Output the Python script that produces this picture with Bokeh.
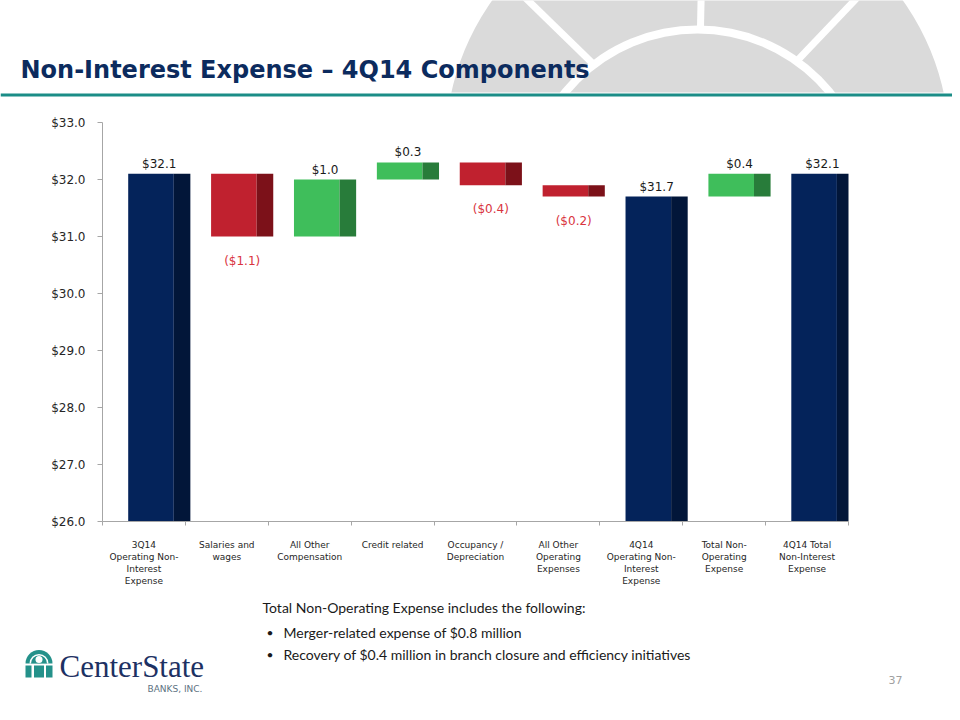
import numpy as np
from bokeh.plotting import figure
from bokeh.models import Range1d, FixedTicker, NumeralTickFormatter, ColumnDataSource
from bokeh.embed import file_html
from bokeh.resources import INLINE
from bokeh.core.properties import value

# ---------------- data ----------------
categories = [
    "3Q14\nOperating Non-\nInterest\nExpense",
    "Salaries and\nwages",
    "All Other\nCompensation",
    "Credit related",
    "Occupancy /\nDepreciation",
    "All Other\nOperating\nExpenses",
    "4Q14\nOperating Non-\nInterest\nExpense",
    "Total Non-\nOperating\nExpense",
    "4Q14 Total\nNon-Interest\nExpense",
]
amounts = [32.1, -1.1, 1.0, 0.3, -0.4, -0.2, 31.7, 0.4, 32.1]
is_total = [True, False, False, False, False, False, True, False, True]
y_ticks = [26.0, 27.0, 28.0, 29.0, 30.0, 31.0, 32.0, 33.0]
y_min, y_max = 26.0, 33.0

title = "Non-Interest Expense \u2013 4Q14 Components"
note_head = "Total Non-Operating Expense includes the following:"
note_items = [
    "Merger-related expense of $0.8 million",
    "Recovery of $0.4 million in branch closure and efficiency initiatives",
]
page_number = "37"

# ---------------- styles ----------------
NAVY, NAVY_SIDE = "#04235a", "#021639"
RED, RED_SIDE = "#c0212f", "#7c1119"
GREEN, GREEN_SIDE = "#3fbe5b", "#287c3a"
NEG_LABEL = "#d93440"
TEAL = "#1b8d87"
GRAY_BG = "#dadada"
LOGO = "#24918a"
FONT = value("DejaVu Sans")
FRONT_L, FRONT_R, DEPTH = 0.31, 0.86, 0.20

W = 952
HDR_H, CH_H, FT_H = 110, 490, 112
FL, FR, FT, FB = 102, 848, 122, 521   # plot frame edges on the page

# ---------------- waterfall geometry ----------------
idx, bottoms, tops, fronts, sides, labels, lcolors = [], [], [], [], [], [], []
running = 0.0
for i, (a, tot) in enumerate(zip(amounts, is_total)):
    if tot:
        b, t = y_min, a
        running = a
        fc, sc = NAVY, NAVY_SIDE
        labels.append("${:.1f}".format(a))
        lcolors.append("#1a1a1a")
    else:
        start, end = running, running + a
        running = end
        b, t = min(start, end), max(start, end)
        if a >= 0:
            fc, sc = GREEN, GREEN_SIDE
            labels.append("${:.1f}".format(a))
            lcolors.append("#1a1a1a")
        else:
            fc, sc = RED, RED_SIDE
            labels.append("(${:.1f})".format(-a))
            lcolors.append(NEG_LABEL)
    idx.append(i)
    bottoms.append(b)
    tops.append(t)
    fronts.append(fc)
    sides.append(sc)

data = dict(
    left=[i + FRONT_L for i in idx],
    right=[i + FRONT_R for i in idx],
    sleft=[i + FRONT_R for i in idx],
    sright=[i + FRONT_R + DEPTH for i in idx],
    xc=[i + (FRONT_L + FRONT_R + DEPTH) / 2 for i in idx],
    bottom=bottoms, top=tops, front=fronts, side=sides,
    label=labels, lcolor=lcolors,
)
src = ColumnDataSource(data)
is_pos = [a >= 0 or t for a, t in zip(amounts, is_total)]
pos_src = ColumnDataSource({k: [v for v, s in zip(data[k], is_pos) if s] for k in data})
neg_src = ColumnDataSource({k: [v for v, s in zip(data[k], is_pos) if not s] for k in data})


def deco_figure(y_top, height):
    f = figure(width=W, height=height, x_range=Range1d(0, W), y_range=Range1d(y_top + height, y_top),
               x_axis_type=None, y_axis_type=None, output_backend="svg", toolbar_location=None,
               min_border=0, outline_line_color=None)
    f.grid.visible = False
    return f


# ---------------- header ----------------
hdr = deco_figure(0, HDR_H)
HDR_CUT = 92
hdr.circle(x=[697], y=[146], radius=252, fill_color=GRAY_BG, line_color=None)
hdr.segment(x0=[697, 697, 697], y0=[165, 165, 165], x1=[701, 505, 873], y1=[-20, -22, -20],
            line_color="white", line_width=7)
hdr.circle(x=[697], y=[200], radius=175, fill_color="white", line_color=None)
hdr.circle(x=[697], y=[200], radius=167, fill_color=GRAY_BG, line_color=None)
hdr.quad(left=[0], right=[W], top=[HDR_CUT], bottom=[HDR_H + 5], fill_color="white", line_color=None)
hdr.quad(left=[0], right=[W], top=[93], bottom=[96], fill_color=TEAL, line_color=None)
hdr.text(x=[20], y=[69], text=[title], text_font=FONT, text_font_style="bold",
         text_font_size="24px", text_color="#0c2b5e", text_baseline="middle")

# ---------------- chart ----------------
p = figure(width=W, height=CH_H, x_range=Range1d(0, len(categories)), y_range=Range1d(y_min, y_max),
           output_backend="svg", toolbar_location=None,
           min_border_left=FL, min_border_right=W - FR, min_border_top=FT - HDR_H,
           min_border_bottom=HDR_H + CH_H - FB, outline_line_color=None)
p.grid.visible = False

p.quad(left="left", right="right", bottom="bottom", top="top", fill_color="front",
       line_color=None, source=src)
p.quad(left="sleft", right="sright", bottom="bottom", top="top", fill_color="side",
       line_color=None, source=src)

p.text(x="xc", y="top", text="label", text_color="lcolor", source=pos_src,
       text_align="center", text_baseline="bottom", y_offset=-3,
       text_font=FONT, text_font_size="12px")
p.text(x="xc", y="bottom", text="label", text_color="lcolor", source=neg_src,
       text_align="center", text_baseline="top", y_offset=17,
       text_font=FONT, text_font_size="12px")

ya = p.yaxis[0]
ya.ticker = FixedTicker(ticks=y_ticks)
ya.formatter = NumeralTickFormatter(format="$0.0")
ya.axis_line_color = "#a6a6a6"
ya.major_tick_line_color = "#a6a6a6"
ya.major_tick_out = 5
ya.major_tick_in = 0
ya.minor_tick_line_color = None
ya.major_label_standoff = 12
ya.major_label_text_font = "DejaVu Sans"
ya.major_label_text_font_size = "12px"
ya.major_label_text_color = "#262626"

xa = p.xaxis[0]
centers = [i + 0.5 for i in idx]
xa.ticker = FixedTicker(ticks=centers, minor_ticks=[float(i) for i in range(len(categories) + 1)])
xa.major_label_overrides = {c: lab for c, lab in zip(centers, categories)}
xa.axis_line_color = "#a6a6a6"
xa.major_tick_line_color = None
xa.major_tick_out = 0
xa.major_tick_in = 0
xa.minor_tick_line_color = "#a6a6a6"
xa.minor_tick_out = 4
xa.minor_tick_in = 0
xa.major_label_standoff = 14
xa.major_label_text_font = "DejaVu Sans"
xa.major_label_text_font_size = "9px"
xa.major_label_text_color = "#262626"

# ---------------- footer ----------------
ft = deco_figure(HDR_H + CH_H, FT_H)
NFONT = value("Lato")
ft.text(x=[262], y=[607], text=[note_head], text_font=NFONT, text_font_size="14px",
        text_color="#1a1a1a", text_baseline="middle")
ft.text(x=[266, 266], y=[632, 654], text=["\u2022", "\u2022"], text_font=NFONT,
        text_font_size="12px", text_color="#1a1a1a", text_baseline="middle")
ft.text(x=[283, 283], y=[632, 654], text=note_items, text_font=NFONT, text_font_size="14px",
        text_color="#1a1a1a", text_baseline="middle")
ft.text(x=[895], y=[679], text=[page_number], text_font=FONT, text_font_size="11px",
        text_color="#a0a0a0", text_baseline="middle", text_align="center")

# logo
ft.wedge(x=[38.5], y=[663], radius=13.5, start_angle=0, end_angle=np.pi, direction="anticlock",
         fill_color=LOGO, line_color=None)
ft.wedge(x=[38.5], y=[663], radius=9.5, start_angle=0, end_angle=np.pi, direction="anticlock",
         fill_color="white", line_color=None)
ft.wedge(x=[38.5], y=[663], radius=8, start_angle=0, end_angle=np.pi, direction="anticlock",
         fill_color=LOGO, line_color=None)
ft.circle(x=[38.5], y=[659], radius=3.5, fill_color="white", line_color=None)
ft.quad(left=[25, 33.5, 45.5], right=[31, 43.5, 52], top=[665, 665, 665], bottom=[677, 677, 677],
        fill_color=LOGO, line_color=None)
ft.text(x=[59], y=[666], text=["CenterState"], text_font=value("Liberation Serif"),
        text_font_size="31px", text_color="#1d3163", text_baseline="middle")
ft.text(x=[147], y=[688], text=["BANKS, INC."], text_font=FONT, text_font_size="9px",
        text_color="#5d7282", text_baseline="middle")

open("out.html", "w").write(file_html([hdr, p, ft], INLINE))
